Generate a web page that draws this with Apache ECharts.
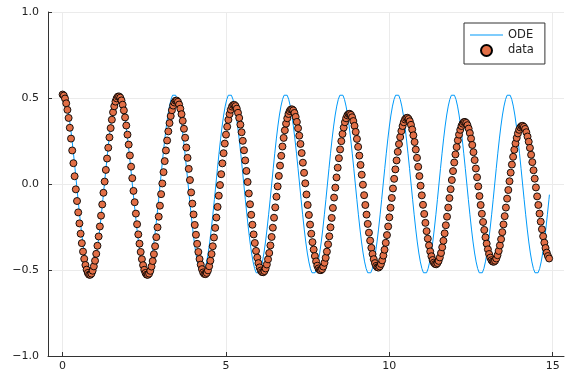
<!DOCTYPE html>
<html>
<head>
<meta charset="utf-8">
<script src="https://cdn.jsdelivr.net/npm/echarts@6/dist/echarts.min.js"></script>
<style>
html,body{margin:0;padding:0;background:#fff;}
#chart{width:576px;height:384px;}
</style>
</head>
<body>
<div id="chart"></div>
<script>
// ---- chart values ----
const xTicks = [0, 5, 10, 15];
const yTicks = [-1, -0.5, 0, 0.5, 1];
const seriesNames = ['ODE', 'data'];

// "data" series: values sampled every dataDt (time starts at 0)
const dataDt = 0.036771;
const dataY = [
  0.520, 0.514, 0.497, 0.469, 0.431, 0.384, 0.327, 0.264, 0.195, 0.121, 0.045,
  -0.031, -0.099, -0.165, -0.229, -0.289, -0.344, -0.393, -0.435, -0.471, -0.498, -0.517, -0.527, -0.528, -0.521, -0.504, -0.479, -0.446, -0.406, -0.359, -0.305, -0.247, -0.184, -0.119, -0.051,
  0.014, 0.082, 0.148, 0.211, 0.271, 0.325, 0.374, 0.417, 0.452, 0.479, 0.498, 0.508, 0.509, 0.502, 0.486, 0.461, 0.428, 0.387, 0.340, 0.287, 0.229, 0.166, 0.101, 0.034,
  -0.040, -0.106, -0.172, -0.234, -0.293, -0.347, -0.395, -0.437, -0.472, -0.499, -0.517, -0.527, -0.528, -0.521, -0.505, -0.480, -0.448, -0.408, -0.362, -0.309, -0.252, -0.190, -0.126, -0.059,
  0.003, 0.069, 0.133, 0.195, 0.253, 0.306, 0.354, 0.395, 0.429, 0.456, 0.474, 0.484, 0.485, 0.478, 0.462, 0.438, 0.406, 0.367, 0.321, 0.269, 0.212, 0.152, 0.088, 0.023,
  -0.049, -0.114, -0.177, -0.238, -0.295, -0.348, -0.395, -0.436, -0.469, -0.495, -0.514, -0.523, -0.524, -0.517, -0.502, -0.478, -0.446, -0.407, -0.362, -0.311, -0.255, -0.195, -0.133, -0.068,
  -0.006, 0.057, 0.120, 0.179, 0.235, 0.287, 0.333, 0.373, 0.406, 0.432, 0.450, 0.459, 0.460, 0.453, 0.438, 0.414, 0.384, 0.345, 0.301, 0.251, 0.196, 0.137, 0.076, 0.012,
  -0.055, -0.118, -0.179, -0.237, -0.293, -0.343, -0.389, -0.428, -0.460, -0.485, -0.503, -0.512, -0.513, -0.506, -0.491, -0.468, -0.438, -0.401, -0.357, -0.308, -0.254, -0.196, -0.136, -0.074,
  -0.014, 0.047, 0.107, 0.164, 0.218, 0.268, 0.312, 0.351, 0.382, 0.407, 0.424, 0.433, 0.434, 0.428, 0.413, 0.390, 0.361, 0.324, 0.281, 0.233, 0.180, 0.124, 0.065, 0.004,
  -0.061, -0.122, -0.180, -0.236, -0.289, -0.338, -0.381, -0.419, -0.450, -0.475, -0.491, -0.500, -0.501, -0.495, -0.480, -0.458, -0.429, -0.393, -0.351, -0.304, -0.252, -0.197, -0.139, -0.079,
  -0.021, 0.038, 0.095, 0.150, 0.201, 0.249, 0.291, 0.328, 0.359, 0.382, 0.399, 0.407, 0.408, 0.402, 0.388, 0.366, 0.338, 0.303, 0.262, 0.216, 0.165, 0.111, 0.054, -0.004,
  -0.065, -0.122, -0.178, -0.232, -0.283, -0.329, -0.371, -0.407, -0.437, -0.460, -0.476, -0.484, -0.486, -0.479, -0.465, -0.444, -0.416, -0.382, -0.342, -0.297, -0.247, -0.194, -0.138, -0.081,
  -0.026, 0.030, 0.085, 0.137, 0.187, 0.232, 0.273, 0.308, 0.337, 0.359, 0.375, 0.383, 0.385, 0.378, 0.365, 0.344, 0.317, 0.283, 0.244, 0.200, 0.152, 0.100, 0.046, -0.010,
  -0.066, -0.121, -0.174, -0.226, -0.274, -0.318, -0.357, -0.392, -0.420, -0.442, -0.457, -0.465, -0.467, -0.460, -0.447, -0.427, -0.401, -0.368, -0.330, -0.287, -0.240, -0.190, -0.137, -0.082,
  -0.030, 0.023, 0.075, 0.125, 0.172, 0.215, 0.254, 0.287, 0.315, 0.337, 0.351, 0.360, 0.361, 0.355, 0.342, 0.322, 0.296, 0.264, 0.227, 0.185, 0.139, 0.090, 0.039, -0.014,
  -0.070, -0.122, -0.173, -0.221, -0.267, -0.310, -0.347, -0.380, -0.407, -0.428, -0.443, -0.451, -0.452, -0.446, -0.433, -0.414, -0.389, -0.357, -0.321, -0.280, -0.235, -0.187, -0.137, -0.085,
  -0.035, 0.016, 0.066, 0.113, 0.158, 0.199, 0.236, 0.268, 0.294, 0.315, 0.329, 0.337, 0.338, 0.332, 0.320, 0.301, 0.276, 0.246, 0.210, 0.170, 0.127, 0.080, 0.031, -0.020,
  -0.072, -0.122, -0.172, -0.219, -0.263, -0.304, -0.341, -0.372, -0.399, -0.419, -0.433
];

// "ODE" series: values sampled every odeDt (time starts at 0), plus the end point
const odeDt = 0.047406;
const odeY = [
  0.524, 0.516, 0.492, 0.453, 0.401, 0.337, 0.262, 0.179, 0.091, 0.000, -0.091, -0.179, -0.262, -0.337, -0.401, -0.453, -0.492, -0.516, -0.524, -0.516, -0.492, -0.453, -0.401, -0.337, -0.262, -0.179, -0.091, 0.000, 0.091, 0.179, 0.262, 0.337, 0.401, 0.453, 0.492, 0.516,
  0.524, 0.516, 0.492, 0.453, 0.401, 0.337, 0.262, 0.179, 0.091, 0.000, -0.091, -0.179, -0.262, -0.337, -0.401, -0.453, -0.492, -0.516, -0.524, -0.516, -0.492, -0.453, -0.401, -0.337, -0.262, -0.179, -0.091, 0.000, 0.091, 0.179, 0.262, 0.337, 0.401, 0.453, 0.492, 0.516,
  0.524, 0.516, 0.492, 0.453, 0.401, 0.337, 0.262, 0.179, 0.091, 0.000, -0.091, -0.179, -0.262, -0.337, -0.401, -0.453, -0.492, -0.516, -0.524, -0.516, -0.492, -0.453, -0.401, -0.337, -0.262, -0.179, -0.091, 0.000, 0.091, 0.179, 0.262, 0.337, 0.401, 0.453, 0.492, 0.516,
  0.524, 0.516, 0.492, 0.453, 0.401, 0.337, 0.262, 0.179, 0.091, 0.000, -0.091, -0.179, -0.262, -0.337, -0.401, -0.453, -0.492, -0.516, -0.524, -0.516, -0.492, -0.453, -0.401, -0.337, -0.262, -0.179, -0.091, 0.000, 0.091, 0.179, 0.262, 0.337, 0.401, 0.453, 0.492, 0.516,
  0.524, 0.516, 0.492, 0.453, 0.401, 0.337, 0.262, 0.179, 0.091, 0.000, -0.091, -0.179, -0.262, -0.337, -0.401, -0.453, -0.492, -0.516, -0.524, -0.516, -0.492, -0.453, -0.401, -0.337, -0.262, -0.179, -0.091, 0.000, 0.091, 0.179, 0.262, 0.337, 0.401, 0.453, 0.492, 0.516,
  0.524, 0.516, 0.492, 0.453, 0.401, 0.337, 0.262, 0.179, 0.091, 0.000, -0.091, -0.179, -0.262, -0.337, -0.401, -0.453, -0.492, -0.516, -0.524, -0.516, -0.492, -0.453, -0.401, -0.337, -0.262, -0.179, -0.091, 0.000, 0.091, 0.179, 0.262, 0.337, 0.401, 0.453, 0.492, 0.516,
  0.524, 0.516, 0.492, 0.453, 0.401, 0.337, 0.262, 0.179, 0.091, 0.000, -0.091, -0.179, -0.262, -0.337, -0.401, -0.453, -0.492, -0.516, -0.524, -0.516, -0.492, -0.453, -0.401, -0.337, -0.262, -0.179, -0.091, 0.000, 0.091, 0.179, 0.262, 0.337, 0.401, 0.453, 0.492, 0.516,
  0.524, 0.516, 0.492, 0.453, 0.401, 0.337, 0.262, 0.179, 0.091, 0.000, -0.091, -0.179, -0.262, -0.337, -0.401, -0.453, -0.492, -0.516, -0.524, -0.516, -0.492, -0.453, -0.401, -0.337, -0.262, -0.179, -0.091, 0.000, 0.091, 0.179, 0.262, 0.337, 0.401, 0.453, 0.492, 0.516,
  0.524, 0.516, 0.492, 0.453, 0.401, 0.337, 0.262, 0.179, 0.091, 0.000, -0.091, -0.179, -0.262, -0.337, -0.401, -0.453, -0.492, -0.516, -0.524, -0.516, -0.492, -0.453, -0.401, -0.337, -0.262, -0.179, -0.091
];
const odeEnd = [14.9, -0.062];

// axis extents (data range widened by 3 %)
const xMin = -0.447, xMax = 15.347;
const yMin = -1, yMax = 1;

// ---- build ----
const dataPts = dataY.map((v, i) => [i * dataDt, v]);
const odePts = odeY.map((v, i) => [i * odeDt, v]);
odePts.push(odeEnd);

const FONT = 'DejaVu Sans';
const AXIS_COLOR = '#333333';
const GRID_COLOR = '#ebebeb';
const ODE_COLOR = '#009AFA';
const DATA_COLOR = '#E26F46';

const fmtY = v => (v < 0 ? '\u2212' : '') + Math.abs(v).toFixed(1);

const chart = echarts.init(document.getElementById('chart'), null, {renderer: 'canvas'});
chart.setOption({
  animation: false,
  backgroundColor: '#ffffff',
  grid: {left: 48, top: 12, width: 516, height: 344, containLabel: false},
  xAxis: {
    type: 'value', min: xMin, max: xMax,
    axisLine: {show: true, onZero: false, lineStyle: {color: AXIS_COLOR, width: 1}},
    axisTick: {show: true, inside: true, length: 4, customValues: xTicks, lineStyle: {color: AXIS_COLOR, width: 1}},
    axisLabel: {show: true, customValues: xTicks, margin: 5, color: '#222', fontFamily: FONT, fontSize: 11,
      formatter: v => String(Math.round(v))},
    splitLine: {show: true, lineStyle: {color: GRID_COLOR, width: 1}}
  },
  yAxis: {
    type: 'value', min: yMin, max: yMax, interval: 0.5,
    axisLine: {show: true, onZero: false, lineStyle: {color: AXIS_COLOR, width: 1}},
    axisTick: {show: true, inside: true, length: 4, customValues: yTicks, lineStyle: {color: AXIS_COLOR, width: 1}},
    axisLabel: {show: true, customValues: yTicks, margin: 9, color: '#222', fontFamily: FONT, fontSize: 11, formatter: fmtY},
    splitLine: {show: true, lineStyle: {color: GRID_COLOR, width: 1}}
  },
  legend: {
    orient: 'vertical', left: 464, top: 23,
    padding: [6, 11, 7, 6],
    itemWidth: 33, itemHeight: 11, itemGap: 3,
    backgroundColor: '#ffffff', borderColor: '#333333', borderWidth: 1, borderRadius: 0,
    textStyle: {fontFamily: FONT, fontSize: 11.5, color: '#222', lineHeight: 12},
    data: [
      {name: seriesNames[0], icon: 'path://M0,0L33,0L33,1L0,1Z',
       itemStyle: {color: ODE_COLOR, borderWidth: 0}},
      {name: seriesNames[1], icon: 'circle'}
    ]
  },
  series: [
    {
      name: seriesNames[0], type: 'line', data: odePts,
      symbol: 'none', showSymbol: false, smooth: false,
      lineStyle: {color: ODE_COLOR, width: 1}, itemStyle: {color: ODE_COLOR},
      z: 2
    },
    {
      name: seriesNames[1], type: 'scatter', data: dataPts,
      symbol: 'circle', symbolSize: 7,
      itemStyle: {color: DATA_COLOR, borderColor: '#000000', borderWidth: 0.9, opacity: 1},
      z: 3
    }
  ]
});
</script>
</body>
</html>
